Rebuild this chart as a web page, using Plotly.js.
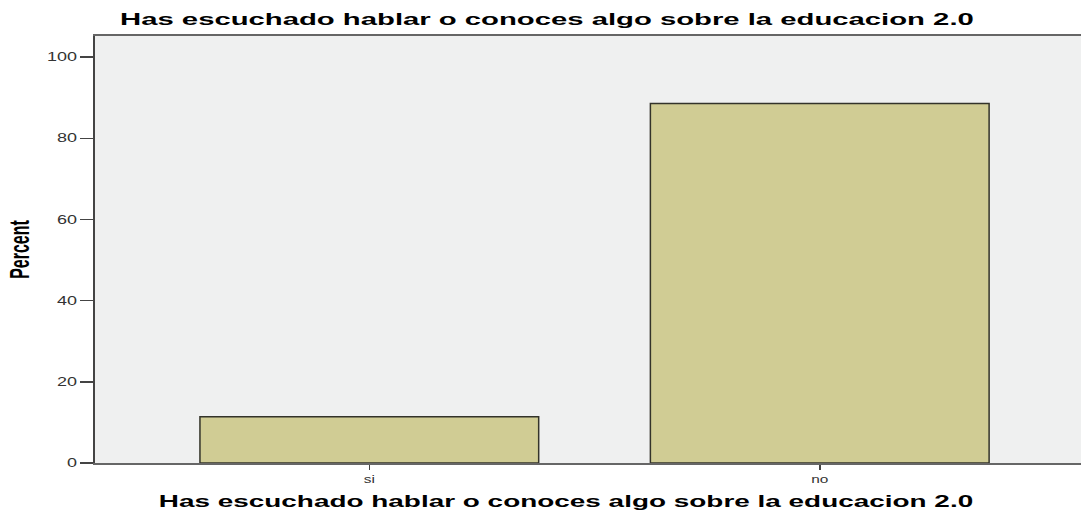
<!DOCTYPE html>
<html>
<head>
<meta charset="utf-8">
<script src="https://cdn.plot.ly/plotly-3.0.1.min.js"></script>
<style>html,body{margin:0;padding:0;background:#fff}#chart{width:1081px;height:510px}</style>
</head>
<body>
<div id="chart"></div>
<script>
const categories = ["si", "no"];
const percents = [11.4, 88.6];
const yTicks = [0, 20, 40, 60, 80, 100];
const titleText = "Has escuchado hablar o conoces algo sobre la educacion 2.0";
const yTitleText = "Percent";

const FONT = "Liberation Sans, Arial, sans-serif";

const trace = {
  type: "bar",
  x: categories,
  y: percents,
  width: 0.752,
  marker: {color: "#d0cc94", line: {color: "#33332a", width: 1.5}},
  hoverinfo: "x+y"
};

const layout = {
  width: 1081, height: 510,
  margin: {l: 95, r: 0, t: 36, b: 47, pad: 0},
  paper_bgcolor: "#ffffff",
  plot_bgcolor: "#eff0f0",
  showlegend: false,
  title: {
    text: titleText,
    font: {family: FONT, size: 16, color: "#000", weight: "bold"},
    x: 0.506, xref: "container", xanchor: "center",
    y: 0.962, yref: "container", yanchor: "middle"
  },
  xaxis: {
    type: "category",
    range: [-0.609, 1.58],
    showline: true, linecolor: "#666", linewidth: 2, mirror: true,
    ticks: "outside", ticklen: 5, tickcolor: "#444", tickwidth: 1.5,
    showgrid: false, zeroline: false,
    tickfont: {family: FONT, size: 11, color: "#333"},
    title: {text: titleText, standoff: 12,
      font: {family: FONT, size: 16, color: "#000", weight: "bold"}}
  },
  yaxis: {
    range: [0, 105.2],
    tickvals: yTicks,
    showline: true, linecolor: "#444", linewidth: 2.5,
    ticks: "outside", ticklen: 13, tickcolor: "#444", tickwidth: 1.5,
    showgrid: false, zeroline: false,
    tickfont: {family: FONT, size: 12, color: "#333"},
    title: {text: yTitleText, standoff: 28,
      font: {family: FONT, size: 16, color: "#000", weight: "bold"}}
  }
};

function stretchX(el, s, mode, dx) {
  const bb = el.getBBox();
  const ax = mode === "end" ? bb.x + bb.width : bb.x + bb.width / 2;
  const old = el.getAttribute("transform") || "";
  el.setAttribute("transform", old + " translate(" + (ax + (dx || 0)) + ",0) scale(" + s + ",1) translate(" + (-ax) + ",0)");
}
function stretchRotated(el, s) {
  const bb = el.getBBox();
  const ay = bb.y + bb.height / 2;
  const old = el.getAttribute("transform") || "";
  el.setAttribute("transform", old + " translate(0," + ay + ") scale(1," + s + ") translate(0," + (-ay) + ")");
}

Plotly.newPlot("chart", [trace], layout, {displayModeBar: false, staticPlot: true}).then(function (gd) {
  gd.querySelectorAll(".gtitle").forEach(function (el) { stretchX(el, 1.83, "center"); });
  gd.querySelectorAll(".xtitle").forEach(function (el) { stretchX(el, 1.745, "center", -22); });
  gd.querySelectorAll(".ytitle").forEach(function (el) { stretchRotated(el, 1.75); });
  gd.querySelectorAll(".ytick text").forEach(function (el) { stretchX(el, 1.5, "end"); });
  gd.querySelectorAll(".xtick text").forEach(function (el) { stretchX(el, 1.4, "center"); });
});
</script>
</body>
</html>
